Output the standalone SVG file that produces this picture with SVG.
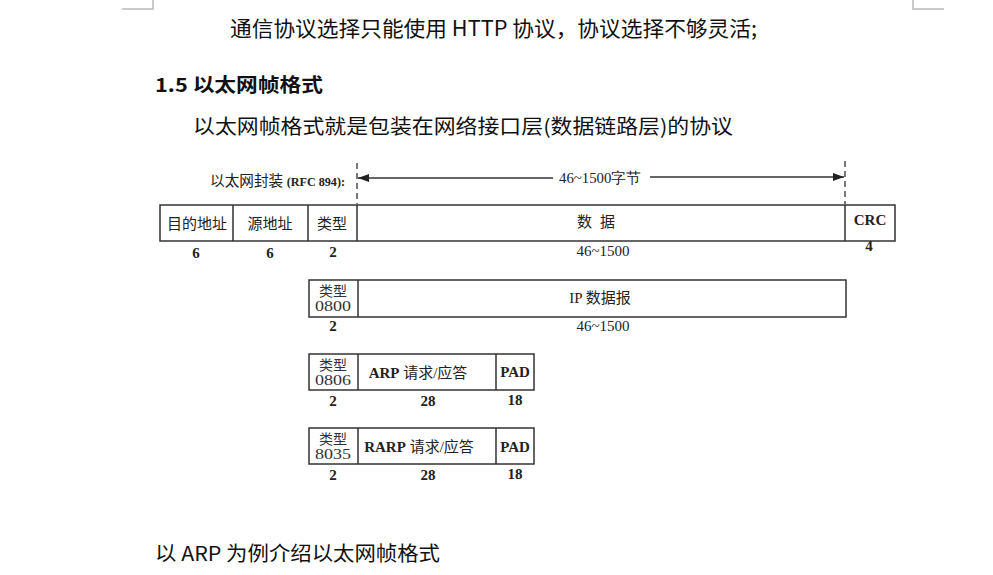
<svg xmlns="http://www.w3.org/2000/svg" width="993" height="575" viewBox="0 0 993 575">
<defs>
<marker id="ah" markerWidth="11" markerHeight="8" refX="11" refY="4" orient="auto" markerUnits="userSpaceOnUse">
<path d="M0,0 L11,4 L0,8 Z" fill="#222"/>
</marker>
<style>
.body{font-family:"Noto Sans CJK SC","Noto Sans",sans-serif;fill:#111;}
.lbl{font-family:"Liberation Serif","Noto Sans CJK SC",serif;font-size:15px;fill:#222;text-anchor:middle;}
.typ{font-family:"Liberation Serif","Noto Sans CJK SC",serif;font-size:14px;fill:#333;text-anchor:middle;}
.num{font-family:"Liberation Serif",serif;font-size:15px;fill:#222;text-anchor:middle;}
.b{font-weight:bold;}
.box{fill:#fff;stroke:#333;stroke-width:1.5;}
.div{stroke:#333;stroke-width:1.5;fill:none;}
.dash{stroke:#333;stroke-width:1.3;stroke-dasharray:6,4;fill:none;}
.small{font-size:12px;}
</style>
</defs>
<rect width="993" height="575" fill="#fff"/>
<g id="page-marks" stroke="#bbb" stroke-width="1.5" fill="none">
<path d="M122,9 H153 V0"/>
<path d="M913,0 V9 H944"/>
</g>
<g id="text-top">
<text class="body" x="230" y="36" font-size="21" textLength="527" lengthAdjust="spacingAndGlyphs">通信协议选择只能使用 HTTP 协议，协议选择不够灵活;</text>
<text class="body b" x="155" y="92" font-size="19" textLength="168" lengthAdjust="spacingAndGlyphs">1.5  以太网帧格式</text>
<text class="body" x="193" y="134" font-size="20" textLength="540" lengthAdjust="spacingAndGlyphs">以太网帧格式就是包装在网络接口层(数据链路层)的协议</text>
<text class="body" x="155" y="561" font-size="20" textLength="285" lengthAdjust="spacingAndGlyphs">以 ARP 为例介绍以太网帧格式</text>
</g>
<g id="encap-label">
<text class="lbl" x="210" y="186" style="text-anchor:start;font-size:14.5px" textLength="135" lengthAdjust="spacingAndGlyphs">以太网封装 <tspan class="b small">(RFC 894):</tspan></text>
</g>
<g id="connectors">
<path class="dash" d="M357,163 V204"/>
<path class="dash" d="M845,161 V204"/>
<path class="div" d="M553,178 H358" marker-end="url(#ah)"/>
<path class="div" d="M650,177 H844" marker-end="url(#ah)"/>
<text class="num" x="600" y="183" textLength="82" lengthAdjust="spacingAndGlyphs">46~1500字节</text>
</g>
<g id="frame-row">
<rect class="box" x="160" y="205" width="735" height="36"/>
<path class="div" d="M233,205 V241 M308,205 V241 M357,205 V241 M845,205 V241"/>
<text class="lbl" x="197" y="229">目的地址</text>
<text class="lbl" x="270" y="229">源地址</text>
<text class="lbl" x="332" y="229">类型</text>
<text class="lbl" x="600" y="227" letter-spacing="8">数据</text>
<text class="lbl b" x="870" y="225">CRC</text>
<text class="num b" x="196" y="258">6</text>
<text class="num b" x="270" y="258">6</text>
<text class="num b" x="333" y="257">2</text>
<text class="num" x="603" y="256">46~1500</text>
<text class="num b" x="869" y="251">4</text>
</g>
<g id="ip-row">
<rect class="box" x="309" y="280" width="537" height="37"/>
<path class="div" d="M358,280 V317"/>
<text class="typ" x="333" y="296">类型</text>
<text class="typ" x="333" y="311" textLength="36" lengthAdjust="spacingAndGlyphs">0800</text>
<text class="lbl" x="600" y="303">IP 数据报</text>
<text class="num b" x="333" y="331">2</text>
<text class="num" x="603" y="331">46~1500</text>
</g>
<g id="arp-row">
<rect class="box" x="309" y="354" width="225" height="36"/>
<path class="div" d="M358,354 V390 M496,354 V390"/>
<text class="typ" x="333" y="370">类型</text>
<text class="typ" x="333" y="385" textLength="36" lengthAdjust="spacingAndGlyphs">0806</text>
<text class="lbl" x="418" y="378"><tspan class="b">ARP</tspan> 请求/应答</text>
<text class="lbl b" x="515" y="377">PAD</text>
<text class="num b" x="333" y="406">2</text>
<text class="num b" x="428" y="406">28</text>
<text class="num b" x="515" y="405">18</text>
</g>
<g id="rarp-row">
<rect class="box" x="309" y="428" width="225" height="36"/>
<path class="div" d="M358,428 V464 M496,428 V464"/>
<text class="typ" x="333" y="444">类型</text>
<text class="typ" x="333" y="459" textLength="36" lengthAdjust="spacingAndGlyphs">8035</text>
<text class="lbl" x="419" y="452"><tspan class="b">RARP</tspan> 请求/应答</text>
<text class="lbl b" x="515" y="452">PAD</text>
<text class="num b" x="333" y="480">2</text>
<text class="num b" x="428" y="480">28</text>
<text class="num b" x="515" y="479">18</text>
</g>
</svg>
